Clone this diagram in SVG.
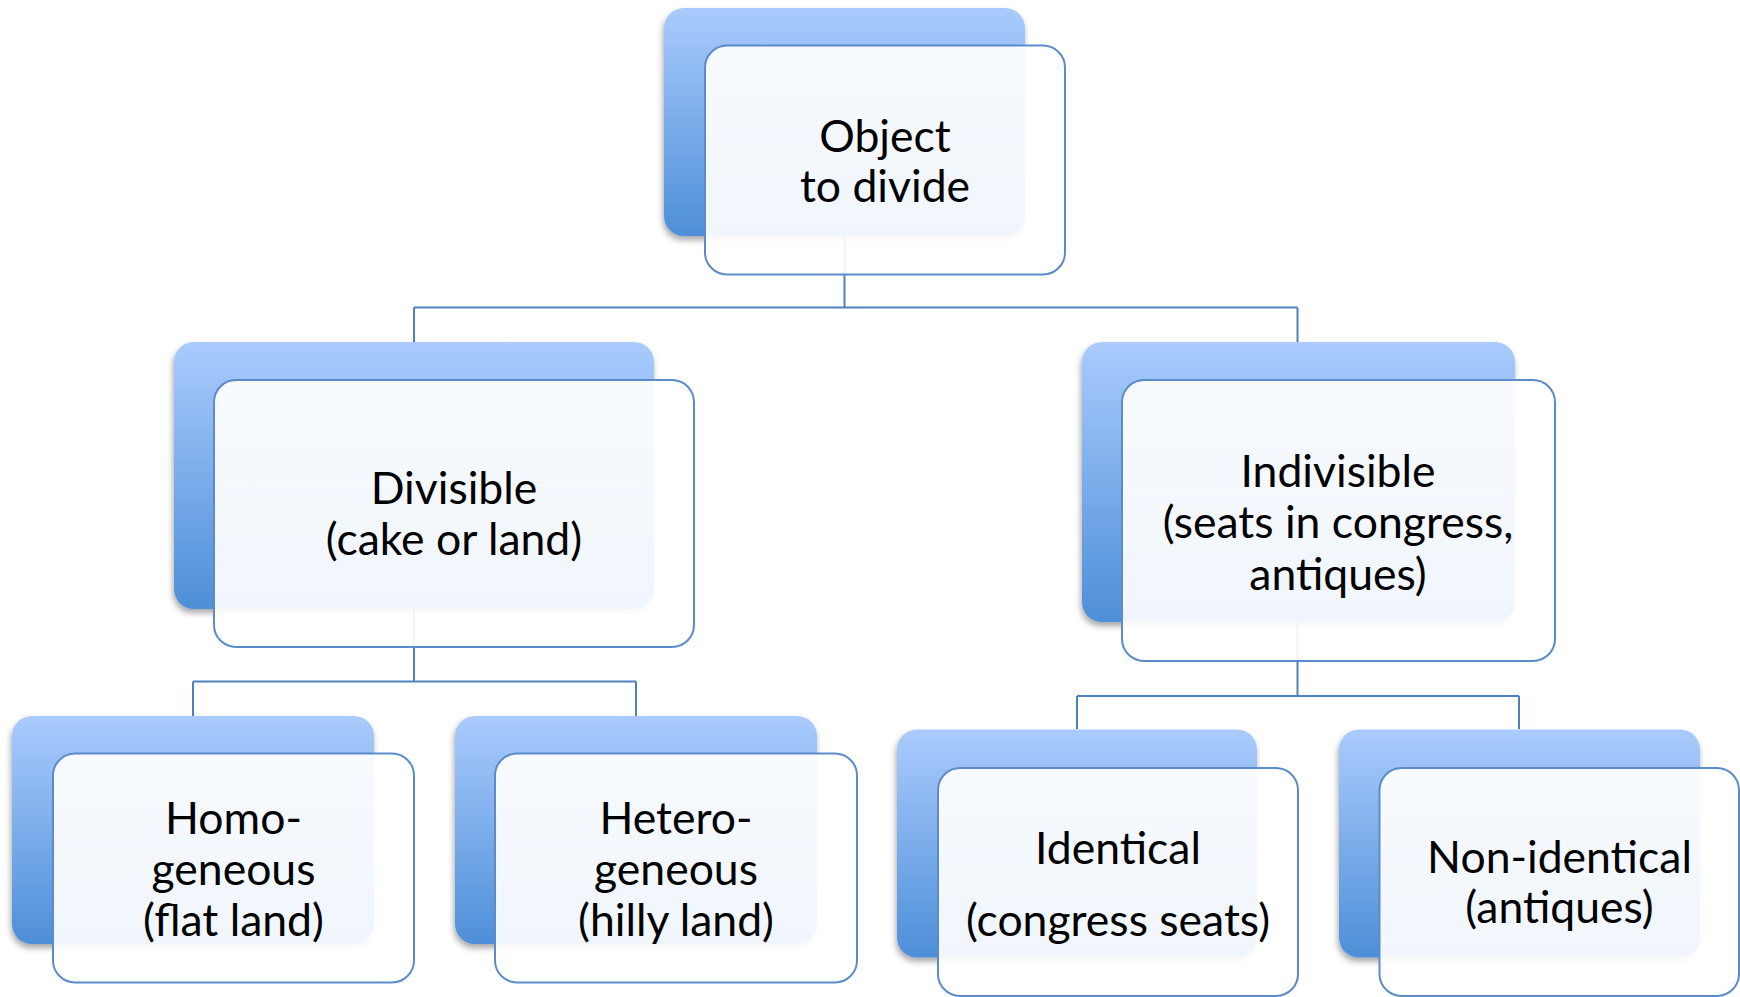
<svg xmlns="http://www.w3.org/2000/svg" width="1740" height="997" viewBox="0 0 1740 997">
  <defs>
    <linearGradient id="backGrad" x1="0" y1="0" x2="0" y2="1">
      <stop offset="0" stop-color="#aacbfd"/>
      <stop offset="1" stop-color="#4d8fd8"/>
    </linearGradient>
    <filter id="shadow" x="-10%" y="-10%" width="120%" height="125%">
      <feDropShadow dx="-1" dy="4" stdDeviation="3" flood-color="#000" flood-opacity="0.35"/>
    </filter>
    <style>
      .back { fill: url(#backGrad); filter: url(#shadow); }
      .front { fill: #ffffff; fill-opacity: 0.92; stroke: #5b8cc9; stroke-width: 2; }
      .conn { fill: none; stroke: #4f81bd; stroke-width: 2; }
      .lbl { font-family: Lato, "Open Sans", "Liberation Sans", sans-serif; font-size: 44.5px; fill: #000; text-anchor: middle; }
    </style>
  </defs>
  <rect width="1740" height="997" fill="#ffffff"/>

  <g id="connectors">
    <path class="conn" d="M844.5,236 V307.5 M414,307.5 H1297.5 M414,307.5 V342 M1297.5,307.5 V342"/>
    <path class="conn" d="M414,609 V681.5 M193,681.5 H636 M193,681.5 V716 M636,681.5 V716"/>
    <path class="conn" d="M1297.5,622 V696 M1077,696 H1519 M1077,696 V729 M1519,696 V729"/>
  </g>

  <g id="node-object">
    <rect class="back" x="664" y="8" width="361" height="228" rx="20"/>
    <rect class="front" x="705" y="45.5" width="360" height="229" rx="22"/>
    <text class="lbl" x="885" y="152">Object</text>
    <text class="lbl" x="885" y="202">to divide</text>
  </g>

  <g id="node-divisible">
    <rect class="back" x="174" y="342" width="480" height="267" rx="20"/>
    <rect class="front" x="214" y="380" width="480" height="267" rx="22"/>
    <text class="lbl" x="454" y="504">Divisible</text>
    <text class="lbl" x="454" y="555">(cake or land)</text>
  </g>

  <g id="node-indivisible">
    <rect class="back" x="1082" y="342" width="433" height="280" rx="20"/>
    <rect class="front" x="1122" y="380" width="433" height="281" rx="22"/>
    <text class="lbl" x="1338" y="487">Indivisible</text>
    <text class="lbl" x="1338" y="538">(seats in congress,</text>
    <text class="lbl" x="1338" y="590">antiques)</text>
  </g>

  <g id="node-homogeneous">
    <rect class="back" x="12" y="716" width="362" height="228" rx="20"/>
    <rect class="front" x="53" y="753.5" width="361" height="229" rx="22"/>
    <text class="lbl" x="233.5" y="834">Homo-</text>
    <text class="lbl" x="233.5" y="885">geneous</text>
    <text class="lbl" x="233.5" y="936">(flat land)</text>
  </g>

  <g id="node-heterogeneous">
    <rect class="back" x="455" y="716" width="362" height="228" rx="20"/>
    <rect class="front" x="495" y="753.5" width="362" height="229" rx="22"/>
    <text class="lbl" x="676" y="834">Hetero-</text>
    <text class="lbl" x="676" y="885">geneous</text>
    <text class="lbl" x="676" y="936">(hilly land)</text>
  </g>

  <g id="node-identical">
    <rect class="back" x="897" y="729.5" width="360" height="228" rx="20"/>
    <rect class="front" x="938" y="768" width="360" height="228" rx="22"/>
    <text class="lbl" x="1118" y="864">Identical</text>
    <text class="lbl" x="1118" y="936">(congress seats)</text>
  </g>

  <g id="node-nonidentical">
    <rect class="back" x="1339" y="729.5" width="361" height="228" rx="20"/>
    <rect class="front" x="1379.5" y="768" width="359.5" height="228" rx="22"/>
    <text class="lbl" x="1559.5" y="873">Non-identical</text>
    <text class="lbl" x="1559.5" y="923">(antiques)</text>
  </g>
</svg>
